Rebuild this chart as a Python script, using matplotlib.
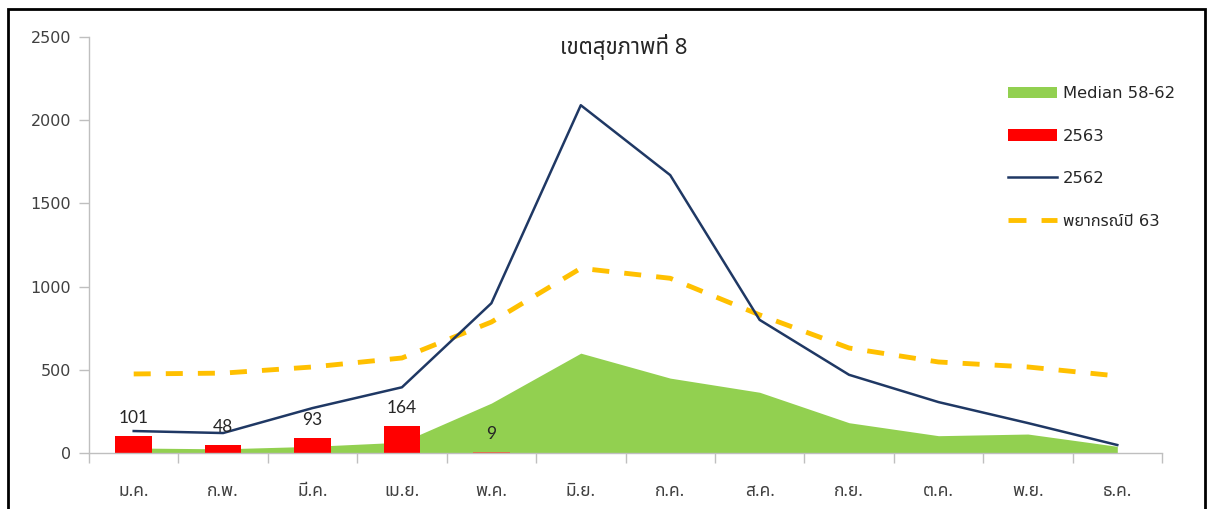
import matplotlib
matplotlib.use("Agg")
import matplotlib.pyplot as plt
from matplotlib import font_manager as fm
from matplotlib.ft2font import FT2Font
from matplotlib.patches import Patch, Rectangle
from matplotlib.lines import Line2D
import numpy as np

# ---------------- data ----------------
months = ["ม.ค.", "ก.พ.", "มี.ค.", "เม.ย.", "พ.ค.", "มิ.ย.",
          "ก.ค.", "ส.ค.", "ก.ย.", "ต.ค.", "พ.ย.", "ธ.ค."]
median_58_62 = [30, 25, 40, 65, 300, 600, 450, 365, 182, 104, 114, 40]
cases_2563 = [101, 48, 93, 164, 9]
cases_2562 = [132, 120, 270, 395, 900, 2090, 1670, 800, 470, 306, 180, 48]
forecast_63 = [475, 480, 517, 571, 787, 1110, 1050, 830, 631, 547, 517, 463]
title = "เขตสุขภาพที่ 8"
legend_labels = ["Median 58-62", "2563", "2562", "พยากรณ์ปี 63"]
yticks = [0, 500, 1000, 1500, 2000, 2500]

# ---------------- fonts ----------------
def find_thai_font():
    pref = ['Tahoma', 'Leelawadee UI', 'Leelawadee', 'Noto Sans Thai', 'Noto Sans Thai UI',
            'Loma', 'Garuda', 'Waree', 'Tlwg Typo', 'Kinnari', 'Norasi', 'Sawasdee',
            'Umpush', 'Laksaman', 'Sarabun', 'TH Sarabun New', 'Noto Serif Thai']
    found = []
    for f in fm.fontManager.ttflist:
        try:
            cm = FT2Font(f.fname).get_charmap()
        except Exception:
            continue
        if 0x0E02 in cm and 0x0E40 in cm and 0x0E34 in cm:
            found.append(f.name)
    for p in pref:
        if p in found:
            return p
    return found[0] if found else None

thai = find_thai_font()
base = ['DejaVu Sans']
thai_family = ([thai] if thai else []) + base
latin_first = base + ([thai] if thai else [])
plt.rcParams['font.family'] = latin_first

text_col = '#404040'
axis_col = '#BFBFBF'

W, H = 1213, 509
fig = plt.figure(figsize=(W / 100, H / 100), dpi=100)
ax = fig.add_axes([89 / W, 1 - 453 / H, (1162 - 89) / W, (453 - 37) / H])

x = np.arange(len(months))

# area
ax.fill_between(x, median_58_62, 0, color='#92D050', lw=0, zorder=1)
# bars
bx = x[:len(cases_2563)]
bar_colors = ['#FF0000'] * len(cases_2563)
bar_colors[-1] = '#E8603C'
ax.bar(bx, cases_2563, width=0.41, color=bar_colors, zorder=2)
for xi, v in zip(bx, cases_2563):
    ax.annotate(str(v), (xi, v), xytext=(0, 7), textcoords='offset points',
                ha='center', va='bottom', fontsize=12.5, color='#262626',
                family=['Lato'] + base, zorder=5)
# lines
ax.plot(x, forecast_63, color='#FFC000', lw=3.5, dashes=(3.5, 3.1), zorder=3)
ax.plot(x, cases_2562, color='#1F3864', lw=1.8, zorder=4)

ax.set_xlim(-0.5, len(months) - 0.5)
ax.set_ylim(0, 2500)
ax.set_yticks(yticks)
ax.set_yticklabels([str(t) for t in yticks], family=base, fontsize=11.5, color=text_col)
ax.set_xticks(x)
ax.set_xticklabels(months, fontsize=12.5, color=text_col, family=thai_family)
ax.set_xticks(np.arange(-0.5, len(months)), minor=True)
ax.tick_params(axis='x', which='major', length=0, pad=21)
ax.tick_params(axis='x', which='minor', length=7, color=axis_col, width=1)
ax.tick_params(axis='y', length=7, color=axis_col, width=1, pad=6)

for s in ['top', 'right']:
    ax.spines[s].set_visible(False)
for s in ['left', 'bottom']:
    ax.spines[s].set_color(axis_col)
    ax.spines[s].set_linewidth(1)

fig.text(624 / W, 1 - 47 / H, title, ha='center', va='center', fontsize=16,
         fontweight='bold', color='#262626', family=thai_family)

handles = [Patch(facecolor='#92D050', edgecolor='none'),
           Patch(facecolor='#FF0000', edgecolor='none'),
           Line2D([], [], color='#1F3864', lw=1.8),
           Line2D([], [], color='#FFC000', lw=3.5, dashes=(3.7, 3.1))]
leg = fig.legend(handles, legend_labels, loc='upper left',
                 bbox_to_anchor=(1008 / W, 1 - 86 / H), frameon=False,
                 fontsize=11.8, handlelength=3.0, handletextpad=0.35,
                 labelspacing=1.68, borderpad=0, borderaxespad=0)
for t in leg.get_texts():
    t.set_color('#262626')

# outer frame
fig.patches.append(Rectangle((8 / W, -0.05), (1205 - 8) / W, 1.05 - 9 / H,
                             transform=fig.transFigure, fill=False,
                             edgecolor='black', lw=2))

fig.savefig('out.png', dpi=100)
